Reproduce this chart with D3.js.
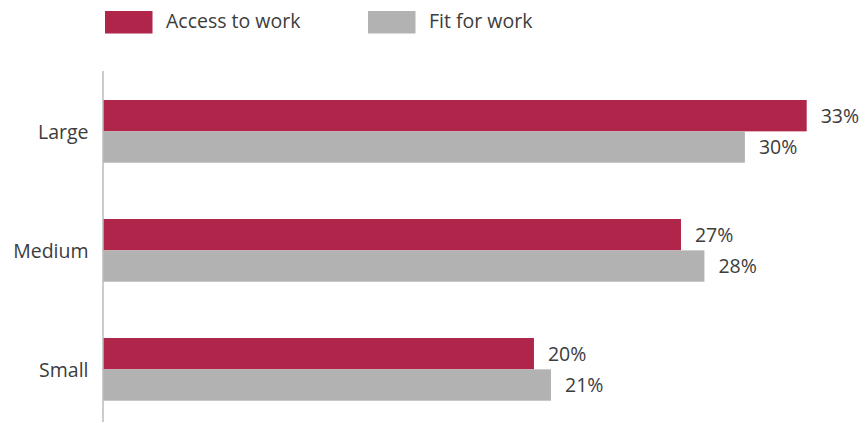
<!DOCTYPE html>
<html><head><meta charset="utf-8">
<script src="https://cdn.jsdelivr.net/npm/d3@7"></script>
<style>body{margin:0;background:#fff}svg{display:block}</style>
</head><body>
<script>
const categories = ["Large", "Medium", "Small"];
const seriesNames = ["Access to work", "Fit for work"];
const accessValues = [33, 27.1, 20.2];
const fitValues = [30.1, 28.2, 21.0];
const accessLabels = ["33%", "27%", "20%"];
const fitLabels = ["30%", "28%", "21%"];
const colors = ["#B0254A", "#B2B2B2"];

const W = 865, H = 423;
const font = "'Open Sans', sans-serif";
const fs = 19.5;
const textColor = "#3c3c3c";
const svg = d3.select("body").append("svg").attr("width", W).attr("height", H);

const x = d3.scaleLinear().domain([0, 33]).range([103.5, 806.7]);
const y = d3.scaleBand().domain(categories).range([71.85, 428.85]).paddingInner(0.473).paddingOuter(0.2365);
const ySub = d3.scaleBand().domain(seriesNames).range([0, y.bandwidth()]);

const rows = categories.map((c, i) => ({
  cat: c,
  bars: [
    {s: seriesNames[0], v: accessValues[i], label: accessLabels[i]},
    {s: seriesNames[1], v: fitValues[i], label: fitLabels[i]}
  ]
}));

const g = svg.selectAll("g.row").data(rows).join("g")
  .attr("transform", d => `translate(0,${y(d.cat)})`);

g.selectAll("rect").data(d => d.bars).join("rect")
  .attr("x", x(0))
  .attr("y", d => ySub(d.s))
  .attr("width", d => x(d.v) - x(0))
  .attr("height", ySub.bandwidth())
  .attr("fill", (d, i) => colors[i]);

g.selectAll("text.val").data(d => d.bars).join("text")
  .attr("class", "val")
  .attr("x", d => x(d.v) + 14)
  .attr("y", d => ySub(d.s) + ySub.bandwidth() / 2 + 2)
  .attr("dominant-baseline", "middle")
  .attr("font-family", font).attr("font-size", fs)
  .attr("fill", textColor)
  .text(d => d.label);

// y axis
const yAxis = d3.axisLeft(y).tickSize(0).tickPadding(15);
const ax = svg.append("g").attr("transform", `translate(${x(0)},0)`).call(yAxis);
ax.select(".domain").remove();
ax.selectAll("text").attr("font-family", font).attr("font-size", fs).attr("fill", textColor).attr("dy", "0.4em");
svg.append("line").attr("x1", x(0) - 0.5).attr("x2", x(0) - 0.5).attr("y1", 71).attr("y2", 422)
  .attr("stroke", "#999").attr("stroke-width", 1);

// legend
const legendX = [105, 368];
const lg = svg.selectAll("g.leg").data(seriesNames).join("g")
  .attr("transform", (d, i) => `translate(${legendX[i]},11)`);
lg.append("rect").attr("width", 47.5).attr("height", 22.5).attr("fill", (d, i) => colors[i]);
lg.append("text").attr("x", 61).attr("y", 11.5).attr("dominant-baseline", "middle")
  .attr("font-family", font).attr("font-size", fs).attr("fill", textColor).text(d => d);
</script>
</body></html>
